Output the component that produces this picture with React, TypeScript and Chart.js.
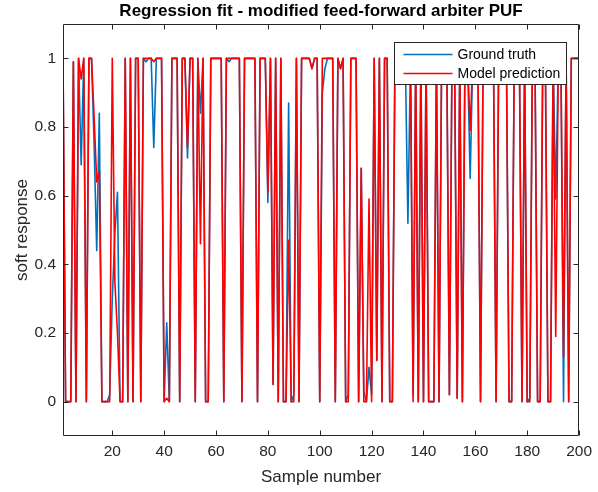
import React, { useEffect, useRef } from "react";
import { Chart, registerables } from "chart.js";

Chart.register(...registerables);

const TITLE = "Regression fit - modified feed-forward arbiter PUF";
const X_LABEL = "Sample number";
const Y_LABEL = "soft response";
const SERIES_NAMES = ["Ground truth", "Model prediction"];

const X_TICKS = [20, 40, 60, 80, 100, 120, 140, 160, 180, 200];
const Y_TICKS = [0, 0.2, 0.4, 0.6, 0.8, 1];

// Model prediction (red), samples 1..200
const PREDICTION = [
  1, 0, 0, 0, 0.99, 0, 1, 0.94, 1, 0,
  1, 1, 0.83, 0.64, 0.67, 0, 0, 0, 0, 1,
  0.35, 0.2, 0, 0, 1, 0, 1, 0, 1, 1,
  0, 1, 1, 1, 1, 0.99, 1, 1, 1, 0,
  0.01, 0, 1, 1, 1, 0, 1, 1, 0.74, 1,
  1, 0, 1, 0.46, 1, 0, 0, 1, 1, 1,
  1, 1, 0, 1, 1, 1, 1, 1, 1, 0,
  1, 1, 1, 1, 1, 0, 1, 1, 1, 0.61,
  1, 0.05, 1, 0, 1, 0, 0, 0.47, 0, 0,
  1, 0, 1, 1, 1, 1, 0.97, 1, 1, 0,
  1, 1, 1, 1, 1, 0, 1, 0.97, 1, 0,
  0, 1, 1, 1, 0, 0.68, 0, 0, 0.59, 0,
  1, 0.12, 1, 0, 1, 1, 0, 0, 1, 1,
  1, 1, 1, 1, 1, 0, 1, 0, 1, 0,
  1, 0, 0, 0, 1, 0, 1, 1, 1, 0.02,
  1, 1, 0.01, 1, 0, 1, 1, 0.79, 1, 1,
  1, 0, 1, 1, 1, 1, 1, 0, 1, 1,
  1, 1, 0, 0, 1, 1, 1, 0, 1, 0,
  0, 1, 1, 0, 0, 1, 1, 0, 0, 1,
  0.19, 1, 1, 0.13, 1, 0, 1, 1, 1, 1,
];

// Ground truth (blue), samples 1..200
const GROUND_TRUTH = [
  1, 0, 0, 0, 0.99, 0, 1, 0.69, 1, 0,
  1, 1, 0.75, 0.44, 0.84, 0, 0, 0, 0.02, 0.3,
  0.49, 0.61, 0, 0, 1, 0, 1, 0, 1, 1,
  0, 1, 0.99, 1, 1, 0.74, 1, 1, 1, 0,
  0.23, 0, 1, 1, 1, 0, 1, 1, 0.71, 1,
  1, 0, 1, 0.84, 1, 0, 0, 1, 1, 1,
  1, 1, 0, 1, 0.99, 1, 1, 1, 1, 0,
  1, 1, 1, 1, 1, 0, 1, 1, 1, 0.58,
  1, 0.05, 1, 0, 1, 0, 0, 0.87, 0, 0.02,
  1, 0, 1, 1, 1, 1, 0.97, 1, 1, 0,
  0.9, 0.97, 1, 1, 1, 0, 1, 0.97, 1, 0,
  0.02, 1, 1, 1, 0, 0.68, 0.03, 0, 0.1, 0.02,
  1, 0.12, 1, 0, 1, 1, 0, 0, 1, 1,
  1, 1, 1, 0.52, 1, 0.02, 1, 0, 1, 0,
  1, 0, 0, 0, 1, 0, 1, 1, 1, 0.02,
  1, 1, 0.01, 1, 0, 1, 1, 0.65, 1, 1,
  1, 0, 1, 1, 1, 1, 1, 0, 1, 1,
  1, 1, 0, 0, 1, 1, 1, 0, 1, 0,
  0.01, 1, 1, 0, 0, 1, 1, 0, 0, 1,
  0.59, 1, 1, 0, 1, 0, 1, 1, 1, 1,
];

const BLUE = "#0072BD";
const RED = "#FF0000";
const AXIS_COLOR = "#262626";
const FONT = "'Liberation Sans', Arial, Helvetica, sans-serif";

const boxPlugin = {
  id: "matlabBox",
  afterDatasetsDraw(chart: any) {
    const { ctx, chartArea, scales } = chart;
    const { left, right, top, bottom } = chartArea;
    const L = Math.round(left) + 0.5;
    const R = Math.round(right) - 0.5;
    const T = Math.round(top) + 0.5;
    const B = Math.round(bottom) - 0.5;
    const tick = 5;
    ctx.save();
    ctx.strokeStyle = AXIS_COLOR;
    ctx.lineWidth = 1;
    ctx.beginPath();
    ctx.moveTo(L, T);
    ctx.lineTo(R, T);
    ctx.lineTo(R, B);
    ctx.lineTo(L, B);
    ctx.closePath();
    for (const v of X_TICKS) {
      const px = Math.round(scales.x.getPixelForValue(v)) + 0.5;
      ctx.moveTo(px, B);
      ctx.lineTo(px, B - tick);
      ctx.moveTo(px, T);
      ctx.lineTo(px, T + tick);
    }
    for (const v of Y_TICKS) {
      const py = Math.round(scales.y.getPixelForValue(v)) + 0.5;
      ctx.moveTo(L, py);
      ctx.lineTo(L + tick, py);
      ctx.moveTo(R, py);
      ctx.lineTo(R - tick, py);
    }
    ctx.stroke();
    ctx.restore();
  },
};

const legendPlugin = {
  id: "insideLegend",
  afterDraw(chart: any) {
    const { ctx, chartArea } = chart;
    const ds = chart.data.datasets;
    const order = [1, 0];
    ctx.save();
    ctx.font = `14px ${FONT}`;
    const textW = Math.max(...order.map((i) => ctx.measureText(ds[i].label).width));
    const lineLen = 49;
    const padL = 9;
    const gap = 5;
    const rowH = 19;
    const w = Math.round(padL + lineLen + gap + textW + 6);
    const h = 42;
    const x0 = Math.round(chartArea.right - 13 - w) + 0.5;
    const y0 = Math.round(chartArea.top + 18) + 0.5;
    ctx.fillStyle = "#ffffff";
    ctx.fillRect(x0, y0, w, h);
    ctx.strokeStyle = AXIS_COLOR;
    ctx.lineWidth = 1;
    ctx.strokeRect(x0, y0, w, h);
    order.forEach((di, k) => {
      const cy = y0 + 12 + k * rowH;
      ctx.strokeStyle = ds[di].borderColor;
      ctx.lineWidth = 1.5;
      ctx.beginPath();
      ctx.moveTo(x0 + padL, cy);
      ctx.lineTo(x0 + padL + lineLen, cy);
      ctx.stroke();
      ctx.fillStyle = "#000000";
      ctx.textBaseline = "middle";
      ctx.textAlign = "left";
      ctx.fillText(ds[di].label, x0 + padL + lineLen + gap, cy + 0.5);
    });
    ctx.restore();
  },
};

export default function App() {
  const canvasRef = useRef<HTMLCanvasElement | null>(null);

  useEffect(() => {
    document.body.style.margin = "0";
    const canvas = canvasRef.current;
    if (!canvas) return;
    const toPoints = (arr: number[]) => arr.map((v, i) => ({ x: i + 1, y: v }));
    const chart = new Chart(canvas, {
      type: "line",
      data: {
        datasets: [
          {
            label: SERIES_NAMES[1],
            data: toPoints(PREDICTION),
            borderColor: RED,
            backgroundColor: RED,
            borderWidth: 1.6,
            borderJoinStyle: "round",
            pointRadius: 0,
            tension: 0,
          },
          {
            label: SERIES_NAMES[0],
            data: toPoints(GROUND_TRUTH),
            borderColor: BLUE,
            backgroundColor: BLUE,
            borderWidth: 1.6,
            borderJoinStyle: "round",
            pointRadius: 0,
            tension: 0,
          },
        ],
      },
      options: {
        responsive: false,
        animation: false,
        events: [],
        layout: { padding: { left: 0, right: 18, top: 0, bottom: 0 } },
        plugins: {
          legend: { display: false },
          tooltip: { enabled: false },
          title: {
            display: true,
            text: TITLE,
            fullSize: false,
            color: "#000000",
            font: { family: FONT, size: 17, weight: "bold" },
            padding: { top: 1, bottom: 2.6 },
          },
        },
        scales: {
          x: {
            type: "linear",
            min: 1,
            max: 200,
            grid: { display: false, drawTicks: false, tickLength: 0 },
            border: { display: false },
            ticks: {
              color: AXIS_COLOR,
              font: { family: FONT, size: 15.5 },
              padding: 6,
              maxRotation: 0,
              autoSkip: false,
            },
            title: {
              display: true,
              text: X_LABEL,
              color: AXIS_COLOR,
              font: { family: FONT, size: 17 },
              padding: { top: 0, bottom: 4 },
            },
            afterBuildTicks: (s: any) => {
              s.ticks = X_TICKS.map((v) => ({ value: v }));
            },
            afterFit: (s: any) => {
              s.height = 56;
            },
          },
          y: {
            type: "linear",
            min: -0.1,
            max: 1.1,
            grid: { display: false, drawTicks: false, tickLength: 0 },
            border: { display: false },
            ticks: {
              color: AXIS_COLOR,
              font: { family: FONT, size: 15.5 },
              padding: 7,
              autoSkip: false,
              callback: (v: any) => String(Number(Number(v).toFixed(1))),
            },
            title: {
              display: true,
              text: Y_LABEL,
              color: AXIS_COLOR,
              font: { family: FONT, size: 17 },
              padding: { top: 12, bottom: 0 },
            },
            afterBuildTicks: (s: any) => {
              s.ticks = Y_TICKS.map((v) => ({ value: v }));
            },
            afterFit: (s: any) => {
              s.width = 63;
            },
          },
        },
      } as any,
      plugins: [boxPlugin, legendPlugin],
    });
    return () => chart.destroy();
  }, []);

  return (
    <div style={{ position: "absolute", left: 0, top: 0, width: 598, height: 492, background: "#ffffff" }}>
      <canvas ref={canvasRef} width={598} height={492} style={{ display: "block" }} />
    </div>
  );
}
